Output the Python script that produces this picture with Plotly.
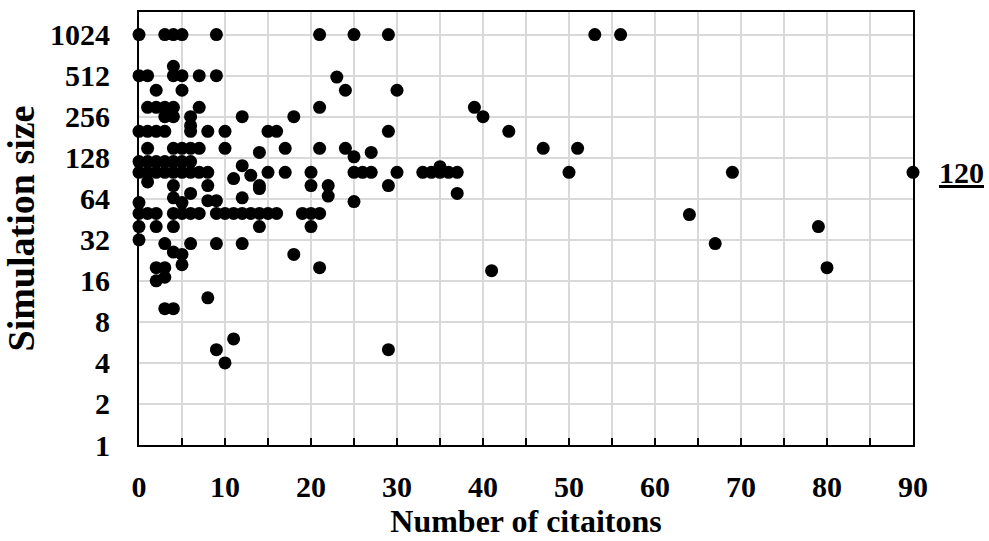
import math
import plotly.graph_objects as go

# citations -> list of simulation sizes
data_by_x = {
    0: [1024, 512, 200, 120, 100, 60, 50, 40, 32],
    1: [512, 300, 200, 150, 120, 100, 85, 50],
    2: [400, 300, 200, 120, 100, 50, 40, 20, 16],
    3: [1024, 300, 256, 200, 120, 100, 30, 20, 17, 10],
    4: [1024, 600, 512, 300, 256, 150, 120, 100, 80, 65, 50, 40, 26, 10],
    5: [1024, 512, 400, 150, 120, 100, 60, 50, 25, 21],
    6: [256, 220, 200, 150, 120, 100, 70, 50, 30],
    7: [512, 300, 150, 100, 50],
    8: [200, 100, 80, 62, 12],
    9: [1024, 512, 62, 50, 30, 5],
    10: [200, 150, 50, 4],
    11: [90, 50, 6],
    12: [256, 112, 65, 50, 30],
    13: [95, 50],
    14: [140, 80, 76, 50, 40],
    15: [200, 100, 50],
    16: [200, 50],
    17: [150, 100],
    18: [256, 25],
    19: [50],
    20: [100, 80, 50, 40],
    21: [1024, 300, 150, 50, 20],
    22: [80, 67],
    23: [500],
    24: [400, 150],
    25: [1024, 130, 100, 61],
    26: [100],
    27: [140, 100],
    29: [1024, 200, 80, 5],
    30: [400, 100],
    33: [100],
    34: [100],
    35: [110, 100],
    36: [100],
    37: [100, 70],
    39: [300],
    40: [256],
    41: [19],
    43: [200],
    47: [150],
    50: [100],
    51: [150],
    53: [1024],
    56: [1024],
    64: [49],
    67: [30],
    69: [100],
    79: [40],
    80: [20],
    90: [100],
}

citations = [x for x, ys in data_by_x.items() for _ in ys]
sim_sizes = [y for ys in data_by_x.values() for y in ys]

y_tick_vals = [1, 2, 4, 8, 16, 32, 64, 128, 256, 512, 1024]
y_tick_text = [str(v) for v in y_tick_vals]
x_tick_vals = [0, 10, 20, 30, 40, 50, 60, 70, 80, 90]
clipped_label = "120"
clipped_y = 100

FONT = "Liberation Serif"
grid = "#d9d9d9"
TICK = 30

fig = go.Figure()
fig.add_trace(go.Scatter(
    x=citations, y=sim_sizes, mode="markers",
    marker=dict(color="black", size=13, line=dict(width=0)),
    cliponaxis=False, showlegend=False,
))

fig.update_layout(
    width=989, height=541,
    margin=dict(l=139, r=76, t=12, b=96),
    plot_bgcolor="white", paper_bgcolor="white",
    font=dict(family=FONT, size=TICK, color="black"),
    xaxis=dict(
        range=[0, 90], tickvals=x_tick_vals,
        showgrid=True, gridcolor=grid, gridwidth=1.5,
        showline=True, linecolor="black", linewidth=2, mirror=True,
        ticks="inside", ticklen=7, tickwidth=2, tickcolor="black",
        minor=dict(dtick=5, tick0=0, showgrid=True, gridcolor=grid, gridwidth=1.5,
                   ticks="inside", ticklen=7, tickwidth=2, tickcolor="black"),
        tickfont=dict(family=FONT, size=TICK, weight="bold"),
        ticklabelstandoff=14,
        title=dict(text="Number of citaitons", font=dict(family=FONT, size=32, weight="bold"), standoff=0),
        zeroline=False, automargin=False,
    ),
    yaxis=dict(
        type="log", range=[0, math.log10(1500)],
        tickvals=y_tick_vals, ticktext=y_tick_text,
        showgrid=True, gridcolor=grid, gridwidth=1.5,
        showline=True, linecolor="black", linewidth=2, mirror=True,
        ticks="", ticklabelstandoff=21,
        tickfont=dict(family=FONT, size=TICK, weight="bold"),
        title=dict(text="Simulation size", font=dict(family=FONT, size=38, weight="bold"), standoff=16),
        zeroline=False, automargin=False,
    ),
    annotations=[dict(
        x=1.063, xref="paper", y=math.log10(clipped_y), yref="y",
        text=clipped_label, showarrow=False, xanchor="center", yanchor="middle",
        font=dict(family=FONT, size=TICK, weight="bold", lineposition="under"),
    )],
)

fig.write_html("out.html")
